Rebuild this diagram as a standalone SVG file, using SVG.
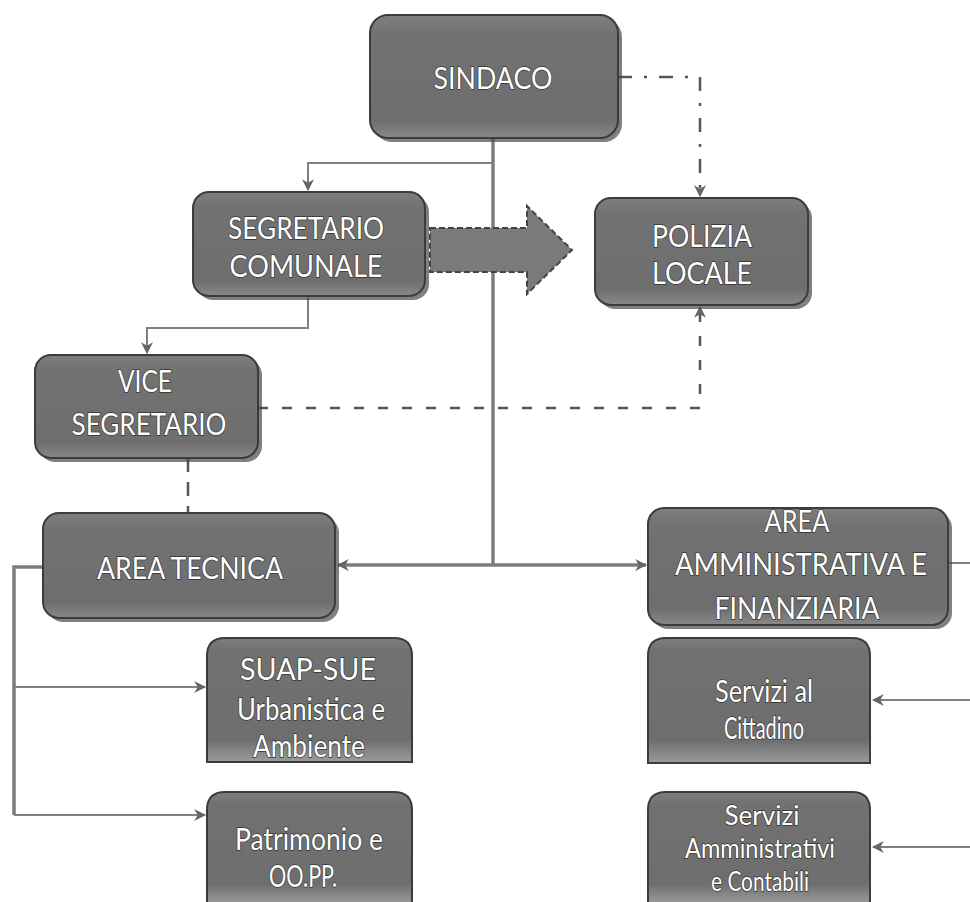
<svg xmlns="http://www.w3.org/2000/svg" width="970" height="902" viewBox="0 0 970 902">
<defs>
<style>
.box{fill:url(#gBox);stroke:#3c3c3c;stroke-width:2}
.shadow{fill:#4a4a4a;opacity:0.7}
.t{font-family:Lato,"Open Sans","Liberation Sans",sans-serif;font-size:30px;fill:#ffffff;stroke:#333;stroke-width:1.4;paint-order:stroke;text-anchor:middle;dominant-baseline:central}
.s{font-size:26px}
.ln{fill:none;stroke:#808080;stroke-width:2}
.trunk{fill:none;stroke:#7c7c7c;stroke-width:3.5}
.dash{fill:none;stroke:#555;stroke-width:2.5;stroke-dasharray:10 14}
.dashdot{fill:none;stroke:#555;stroke-width:2.5;stroke-dasharray:14 12 3 12}
</style>
<linearGradient id="gBox" x1="0" y1="0" x2="0" y2="1">
<stop offset="0" stop-color="#7e7e7e"/>
<stop offset="0.15" stop-color="#727272"/>
<stop offset="0.85" stop-color="#6e6e6e"/>
<stop offset="1" stop-color="#888"/>
</linearGradient>
<linearGradient id="gCut" x1="0" y1="0" x2="0" y2="1">
<stop offset="0" stop-color="#7e7e7e"/>
<stop offset="0.1" stop-color="#717171"/>
<stop offset="0.82" stop-color="#6e6e6e"/>
<stop offset="1" stop-color="#9c9c9c"/>
</linearGradient>
<marker id="arrL" viewBox="0 0 10 10" refX="9" refY="5" markerWidth="12" markerHeight="12" orient="auto" markerUnits="userSpaceOnUse">
<path d="M0,0 L10,5 L0,10 L3,5 z" fill="#666"/>
</marker>
</defs>

<g id="connectors">
<path class="trunk" d="M493,138 V565"/>
<path class="ln" d="M493,163 H308 V190" marker-end="url(#arrL)"/>
<path class="ln" d="M308,296 V328 H147 V353" marker-end="url(#arrL)"/>
<path class="dashdot" d="M618,77 H700 V196" marker-end="url(#arrL)"/>
<path class="dash" d="M258,408 H700 V307" marker-end="url(#arrL)"/>
<path class="dash" d="M188,458 V513" style="stroke-dasharray:14 10"/>
<path class="trunk" d="M493,565 H338" marker-end="url(#arrL)"/>
<path class="trunk" d="M493,565 H646" marker-end="url(#arrL)"/>
<path class="trunk" d="M43,567 H14 V815"/>
<path class="ln" d="M14,687 H205" marker-end="url(#arrL)"/>
<path class="ln" d="M14,815 H205" marker-end="url(#arrL)"/>
<path class="ln" d="M948,563 H970"/>
<path class="ln" d="M970,700 H873" marker-end="url(#arrL)"/>
<path class="ln" d="M970,847 H873" marker-end="url(#arrL)"/>
<polygon id="block-arrow" points="430,228 527,228 527,206 572,250 527,294 527,272 430,272" fill="#7a7a7a" stroke="#444" stroke-width="2" stroke-dasharray="6 3"/>
</g>

<g id="sindaco">
<rect class="shadow" x="374" y="19" width="248" height="123" rx="18"/>
<rect class="box" x="370" y="15" width="248" height="123" rx="18"/>
<text class="t" x="493" y="77" textLength="119" lengthAdjust="spacingAndGlyphs">SINDACO</text>
</g>

<g id="segretario">
<rect class="shadow" x="197" y="196" width="232" height="104" rx="16"/>
<rect class="box" x="193" y="192" width="232" height="104" rx="16"/>
<text class="t" x="306" y="227" textLength="156" lengthAdjust="spacingAndGlyphs">SEGRETARIO</text>
<text class="t" x="306" y="265" textLength="153" lengthAdjust="spacingAndGlyphs">COMUNALE</text>
</g>

<g id="polizia">
<rect class="shadow" x="599" y="202" width="213" height="107" rx="16"/>
<rect class="box" x="595" y="198" width="213" height="107" rx="16"/>
<text class="t" x="702" y="235" textLength="100" lengthAdjust="spacingAndGlyphs">POLIZIA</text>
<text class="t" x="702" y="272" textLength="100" lengthAdjust="spacingAndGlyphs">LOCALE</text>
</g>

<g id="vice">
<rect class="shadow" x="39" y="359" width="223" height="103" rx="16"/>
<rect class="box" x="35" y="355" width="223" height="103" rx="16"/>
<text class="t" x="145" y="380" textLength="54" lengthAdjust="spacingAndGlyphs">VICE</text>
<text class="t" x="149" y="423" textLength="155" lengthAdjust="spacingAndGlyphs">SEGRETARIO</text>
</g>

<g id="area-tecnica">
<rect class="shadow" x="47" y="517" width="292" height="105" rx="16"/>
<rect class="box" x="43" y="513" width="292" height="105" rx="16"/>
<text class="t" x="190" y="567" textLength="186" lengthAdjust="spacingAndGlyphs">AREA TECNICA</text>
</g>

<g id="area-amministrativa">
<rect class="shadow" x="652" y="512" width="300" height="117" rx="16"/>
<rect class="box" x="648" y="508" width="300" height="117" rx="16"/>
<text class="t" x="797" y="520" textLength="65" lengthAdjust="spacingAndGlyphs">AREA</text>
<text class="t" x="801" y="563" textLength="252" lengthAdjust="spacingAndGlyphs">AMMINISTRATIVA E</text>
<text class="t" x="797" y="607" textLength="165" lengthAdjust="spacingAndGlyphs">FINANZIARIA</text>
</g>

<g id="suap">
<path d="M207,762 V656 Q207,638 225,638 H394 Q412,638 412,656 V762 Z" fill="url(#gCut)" stroke="#3c3c3c" stroke-width="2"/>
<text class="t" x="308" y="668" textLength="136" lengthAdjust="spacingAndGlyphs">SUAP-SUE</text>
<text class="t" x="311" y="708" textLength="148" lengthAdjust="spacingAndGlyphs">Urbanistica e</text>
<text class="t" x="309" y="745" textLength="112" lengthAdjust="spacingAndGlyphs">Ambiente</text>
</g>

<g id="patrimonio">
<path d="M207,904 V810 Q207,792 225,792 H394 Q412,792 412,810 V904 Z" fill="url(#gCut)" stroke="#3c3c3c" stroke-width="2"/>
<text class="t" x="309" y="838" textLength="148" lengthAdjust="spacingAndGlyphs">Patrimonio e</text>
<text class="t" x="303" y="875" textLength="68" lengthAdjust="spacingAndGlyphs">OO.PP.</text>
</g>

<g id="servizi-cittadino">
<path d="M648,763 V656 Q648,638 666,638 H852 Q870,638 870,656 V763 Z" fill="url(#gCut)" stroke="#3c3c3c" stroke-width="2"/>
<text class="t" x="764" y="690" textLength="98" lengthAdjust="spacingAndGlyphs">Servizi al</text>
<text class="t" x="764" y="727" textLength="80" lengthAdjust="spacingAndGlyphs">Cittadino</text>
</g>

<g id="servizi-amministrativi">
<path d="M648,904 V810 Q648,792 666,792 H852 Q870,792 870,810 V904 Z" fill="url(#gCut)" stroke="#3c3c3c" stroke-width="2"/>
<text class="t s" x="762" y="815" textLength="75" lengthAdjust="spacingAndGlyphs">Servizi</text>
<text class="t s" x="760" y="848" textLength="150" lengthAdjust="spacingAndGlyphs">Amministrativi</text>
<text class="t s" x="760" y="881" textLength="98" lengthAdjust="spacingAndGlyphs">e Contabili</text>
</g>
</svg>
